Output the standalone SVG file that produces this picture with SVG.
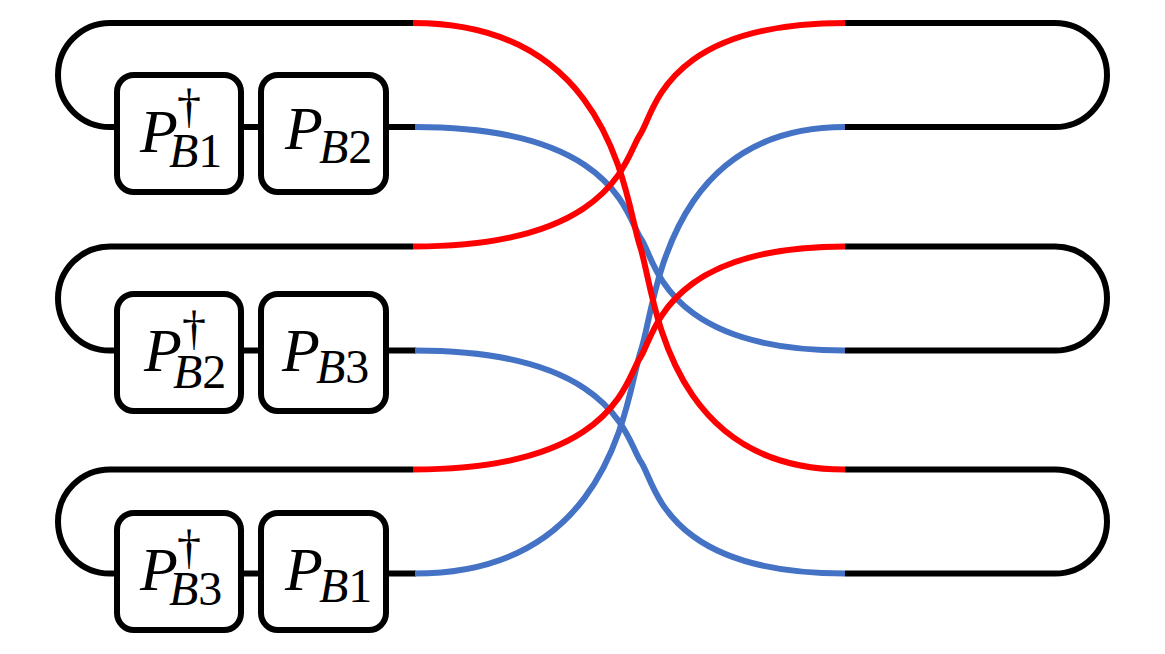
<svg xmlns="http://www.w3.org/2000/svg" width="1165" height="654" viewBox="0 0 1165 654">
<style>
.box{fill:#fff;stroke:#000;stroke-width:6}
.blk{fill:none;stroke:#000;stroke-width:6}
.red{fill:none;stroke:#ff0000;stroke-width:6}
.blu{fill:none;stroke:#4472c4;stroke-width:6}
.t{font-family:"Liberation Serif","Times New Roman",serif;fill:#000}
.p{font-style:italic;font-size:62px}
.s{font-style:italic;font-size:48px}
.n{font-style:normal;font-size:48px}
.d{font-style:normal;font-size:48px}
</style>
<rect width="1165" height="654" fill="#fff"/>
<g id="connectors">
<path class="blk" d="M413,23 H110 A52,52 0 0 0 110,127 H117"/>
<path class="blk" d="M413,246.5 H110 A52,52 0 0 0 110,350.5 H117"/>
<path class="blk" d="M413,469.5 H110 A52,52 0 0 0 110,573.5 H117"/>
<path class="blk" d="M241,127 H261 M386,127 H416"/>
<path class="blk" d="M241,350.5 H261 M386,350.5 H416"/>
<path class="blk" d="M241,573.5 H261 M386,573.5 H416"/>
<path class="blk" d="M845,23 H1055 A52,52 0 0 1 1055,127 H845"/>
<path class="blk" d="M845,246.5 H1055 A52,52 0 0 1 1055,350.5 H845"/>
<path class="blk" d="M845,469.5 H1055 A52,52 0 0 1 1055,573.5 H845"/>
<path class="blu" d="M415,127 C616,127 626.5,217.75 641,238.75 C655.5,259.75 663.4,350.5 845,350.5"/>
<path class="blu" d="M415,350.5 C616,350.5 626.5,441 641,462 C655.5,483 663.4,573.5 845,573.5"/>
<path class="blu" d="M415,573.5 C616,573.5 626.5,392.25 641,350.25 C655.5,308.25 663.4,127 845,127"/>
<path class="red" d="M413,23 C615,23 625.5,204.25 640,246.25 C654.5,288.25 662.5,469.5 845,469.5"/>
<path class="red" d="M413,246.5 C615,246.5 625.5,155.75 640,134.75 C654.5,113.75 662.5,23 845,23"/>
<path class="red" d="M413,469.5 C615,469.5 625.5,379 640,358 C654.5,337 662.5,246.5 845,246.5"/>
</g>
<g id="PdB1">
<rect class="box" x="117" y="75" width="124" height="117" rx="17"/>
<text class="t"><tspan class="p" x="140" y="152">P</tspan><tspan class="s" x="169" y="167">B</tspan><tspan class="n">1</tspan><tspan class="d" x="177" y="122">†</tspan></text>
</g>
<g id="PB2">
<rect class="box" x="261" y="75" width="125" height="117" rx="17"/>
<text class="t"><tspan class="p" x="285" y="149">P</tspan><tspan class="s" x="319" y="163">B</tspan><tspan class="n">2</tspan></text>
</g>
<g id="PdB2">
<rect class="box" x="117" y="294" width="124" height="117" rx="17"/>
<text class="t"><tspan class="p" x="144" y="371">P</tspan><tspan class="s" x="173" y="388">B</tspan><tspan class="n">2</tspan><tspan class="d" x="182" y="344">†</tspan></text>
</g>
<g id="PB3">
<rect class="box" x="261" y="294" width="125" height="117" rx="17"/>
<text class="t"><tspan class="p" x="282" y="371">P</tspan><tspan class="s" x="316" y="383">B</tspan><tspan class="n">3</tspan></text>
</g>
<g id="PdB3">
<rect class="box" x="117" y="513" width="124" height="117" rx="17"/>
<text class="t"><tspan class="p" x="140" y="590">P</tspan><tspan class="s" x="169" y="605">B</tspan><tspan class="n">3</tspan><tspan class="d" x="177" y="563">†</tspan></text>
</g>
<g id="PB1">
<rect class="box" x="261" y="513" width="125" height="117" rx="17"/>
<text class="t"><tspan class="p" x="285" y="590">P</tspan><tspan class="s" x="319" y="602">B</tspan><tspan class="n">1</tspan></text>
</g>
</svg>
